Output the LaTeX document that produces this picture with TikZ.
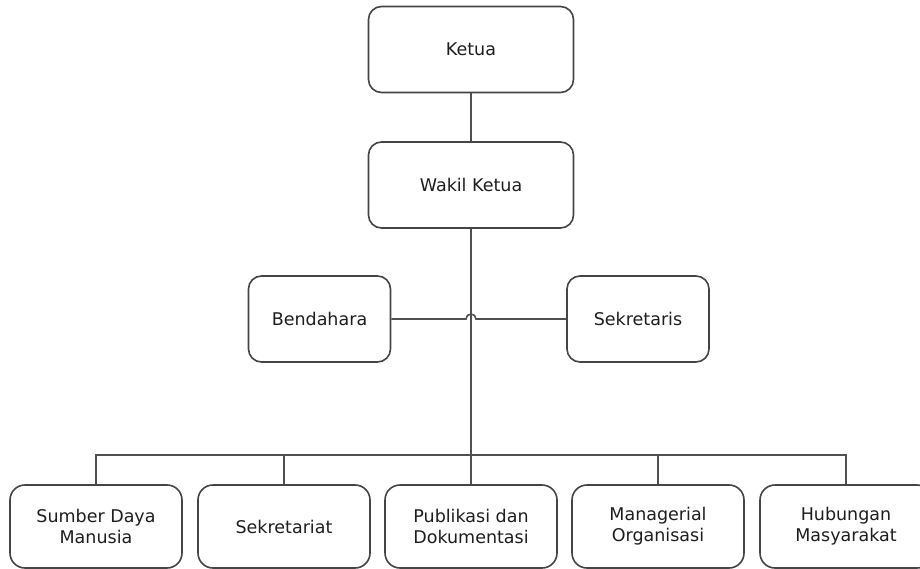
\documentclass[tikz,border=0pt]{standalone}
\usepackage{fontspec}
\setmainfont{DejaVu Sans}
\definecolor{boxline}{HTML}{454545}
\definecolor{conn}{HTML}{505050}
\definecolor{txt}{HTML}{1E1E1E}
\begin{document}
\begin{tikzpicture}[x=1pt,y=-1pt,
  box/.style={draw=boxline, line width=1.6pt, rounded corners=13pt, fill=white,
    align=center, text=txt, inner sep=0pt,
    font=\fontsize{17.5}{21}\selectfont},
  topbox/.style={box, minimum width=205pt, minimum height=86pt},
  midbox/.style={box, minimum width=142pt, minimum height=86pt},
  botbox/.style={box, minimum width=172pt, minimum height=83pt, rounded corners=15pt},
  conn/.style={draw=conn, line width=1.6pt}]
\clip (0,0) rectangle (920,569);
\fill[white] (0,0) rectangle (920,569);

\node[topbox] (ketua) at (471,49.5) {Ketua};
\node[topbox] (wakil) at (471,185) {Wakil Ketua};
\node[midbox] (bend) at (319.5,319) {Bendahara};
\node[midbox] (sekr) at (638,319) {Sekretaris};

\node[botbox] (sdm) at (96,526.5) {Sumber Daya\\Manusia};
\node[botbox] (sekt) at (284,526.5) {Sekretariat};
\node[botbox] (pub) at (471,526.5) {Publikasi dan\\Dokumentasi};
\node[botbox] (man) at (658,526.5) {Managerial\\Organisasi};
\node[botbox] (hum) at (846,526.5) {Hubungan\\Masyarakat};

\coordinate (bus) at (471,455);
\coordinate (hopL) at (466,319);

\draw[conn] (ketua) -- (wakil);
\draw[conn] (wakil.south) -- (pub.north);
\draw[conn] (bend.east) -- (hopL) arc[start angle=180, end angle=0, radius=5pt] -- (sekr.west);
\draw[conn] (sdm.north) |- (bus) -| (hum.north);
\draw[conn] (sekt.north) -- (sekt.north |- bus);
\draw[conn] (man.north) -- (man.north |- bus);
\end{tikzpicture}
\end{document}
